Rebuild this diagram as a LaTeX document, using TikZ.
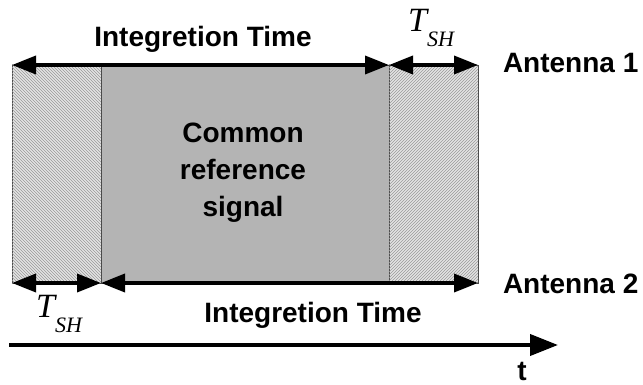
\documentclass[tikz,border=0pt]{standalone}
\usepackage{fontspec}
\setmainfont{Liberation Sans}
\newfontfamily\tmsfont{Liberation Serif}
\usetikzlibrary{arrows.meta,patterns}
\definecolor{refgray}{HTML}{B4B4B4}
\definecolor{hatchbg}{HTML}{E4E4E4}
\definecolor{hatchln}{HTML}{999999}
\definecolor{edgegray}{HTML}{4A4A4A}
\newcommand\tshtext{{\tmsfont\itshape\fontsize{34}{34}\selectfont T\raisebox{-15pt}{\fontsize{22}{22}\selectfont SH}}}
\begin{document}
\begin{tikzpicture}[x=1pt,y=-1pt,
  lbl/.style={font=\bfseries\fontsize{28}{37}\selectfont, inner sep=0pt, outer sep=0pt},
  blk/.style={draw=edgegray, line width=0.7pt, inner sep=0pt, outer sep=0pt,
              minimum height=218pt, anchor=north west},
  hatchL/.style={blk, fill=hatchbg, postaction={pattern=north west lines, pattern color=hatchln}},
  hatchR/.style={blk, fill=hatchbg, postaction={pattern=north east lines, pattern color=hatchln}},
  plain/.style={blk, fill=refgray},
  dim/.style={line width=3.6pt, {Triangle[length=24pt,width=18pt]}-{Triangle[length=24pt,width=18pt]}},
  axis/.style={line width=4pt, -{Triangle[length=28pt,width=21pt]}}]
\useasboundingbox (0,0) rectangle (643,385);
% blocks
\node[hatchL, minimum width=89pt] (lh) at (12,65) {};
\node[plain, minimum width=288pt] (cr) at (101,65) {};
\node[hatchR, minimum width=89pt] (rh) at (389,65) {};
% dimension arrows
\draw[dim] (lh.north west) -- (cr.north east);
\draw[dim] (rh.north west) -- (rh.north east);
\draw[dim] (lh.south west) -- (lh.south east);
\draw[dim] (cr.south west) -- (rh.south east);
% time axis
\coordinate (t0) at (9,345);
\coordinate (t1) at (558,345);
\draw[axis] (t0) -- (t1);
% labels
\node[lbl, anchor=base] (it1) at (203,47) {Integretion Time};
\node[lbl, anchor=base] (it2) at (313,322) {Integretion Time};
\node[lbl, anchor=base west] (a1) at (503,73) {Antenna 1};
\node[lbl, anchor=base west] (a2) at (503,293) {Antenna 2};
\node[lbl, anchor=base] (tl) at (522,380) {t};
\node[lbl, align=center, anchor=north] (crs) at (243,123) {Common\\reference\\signal};
\node[inner sep=0pt, anchor=base west] (tsh1) at (408,32) {\tshtext};
\node[inner sep=0pt, anchor=base west] (tsh2) at (36,317) {\tshtext};
\end{tikzpicture}
\end{document}
